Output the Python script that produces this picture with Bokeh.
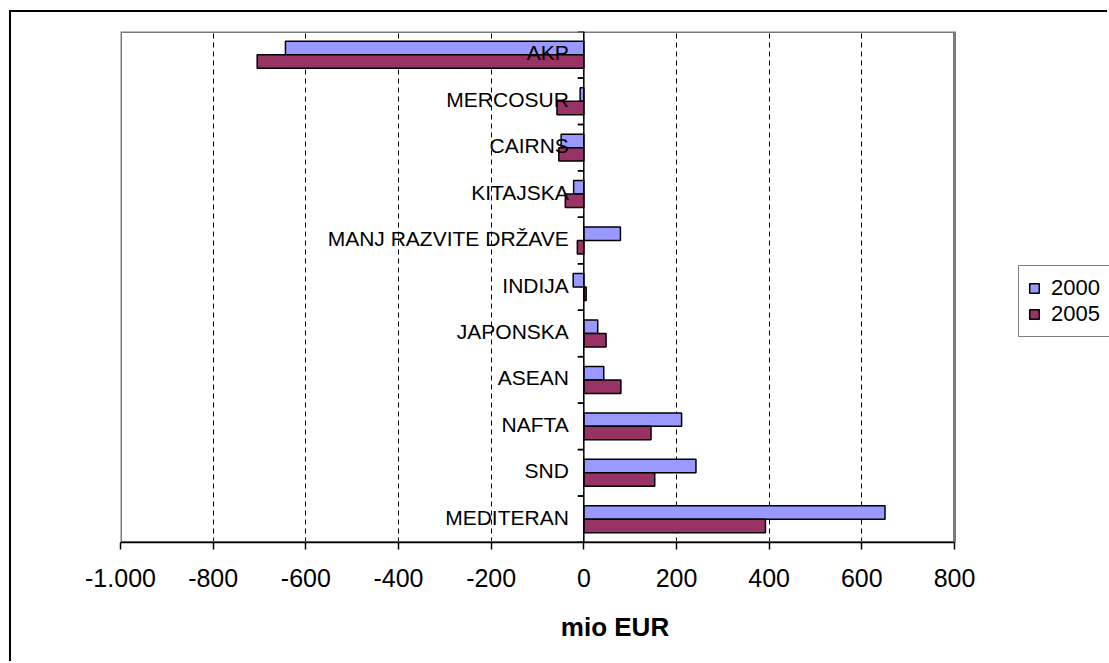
from bokeh.plotting import figure
from bokeh.models import (Range1d, FactorRange, FixedTicker, Span, Legend, LegendItem,
                          ColumnDataSource, BoxAnnotation)
from bokeh.transform import dodge
from bokeh.core.properties import value
from bokeh.embed import file_html
from bokeh.resources import INLINE

# ---- data ----
categories = ["AKP", "MERCOSUR", "CAIRNS", "KITAJSKA", "MANJ RAZVITE DRŽAVE", "INDIJA",
              "JAPONSKA", "ASEAN", "NAFTA", "SND", "MEDITERAN"]
values_2000 = [-644, -8, -49, -22, 79, -23, 30, 43, 211, 242, 650]
values_2005 = [-705, -58, -54, -40, -14, 5, 48, 80, 145, 153, 392]
series_names = ["2000", "2005"]
series_colors = ["#9999FF", "#993366"]
tick_values = [-1000, -800, -600, -400, -200, 0, 200, 400, 600, 800]
tick_labels = ["-1.000", "-800", "-600", "-400", "-200", "0", "200", "400", "600", "800"]
x_axis_title = "mio EUR"

FONT = "Liberation Sans"

# layout (pixels)
CANVAS_W, CANVAS_H = 1098, 651
PLOT_LEFT, PLOT_W = 109, 834          # plot area spans the axis bounds
x_min, x_max = tick_values[0], tick_values[-1]
# the frame continues to the canvas' right edge so the legend can sit beside the plot area
x_frame_end = x_min + (CANVAS_W - PLOT_LEFT) * (x_max - x_min) / PLOT_W

source = ColumnDataSource(dict(cat=categories, v2000=values_2000, v2005=values_2005))

p = figure(width=CANVAS_W, height=CANVAS_H, output_backend="svg", toolbar_location=None,
           title=None, y_axis_location=None,
           x_range=Range1d(x_min, x_frame_end),
           y_range=FactorRange(factors=categories[::-1]),
           min_border_left=PLOT_LEFT, min_border_right=0, min_border_top=19, min_border_bottom=121)
p.margin = (10, 0, 0, 9)
p.styles = {"border-left": "2px solid black", "border-top": "2px solid black",
            "border-right": "none", "border-bottom": "none"}
p.background_fill_color = "white"
p.border_fill_color = "white"
p.outline_line_color = None

# plot-area outline
p.add_layout(BoxAnnotation(left=x_min, right=x_max, fill_alpha=0, fill_color=None,
                           line_color="#7a7a7a", line_alpha=1, line_width=3, level="underlay"))

# x axis
ax = p.xaxis[0]
ax.bounds = (x_min, x_max)
ax.ticker = FixedTicker(ticks=tick_values)
ax.major_label_overrides = dict(zip(tick_values, tick_labels))
ax.major_label_text_font = FONT
ax.major_label_text_font_size = "25px"
ax.major_label_text_color = "black"
ax.major_tick_out = 7
ax.major_tick_in = 0
ax.minor_tick_line_color = None
ax.axis_line_color = "black"
ax.axis_line_width = 1.5
ax.major_tick_line_color = "black"
ax.major_tick_line_width = 1.5
ax.major_label_standoff = 19
ax.axis_label = x_axis_title
ax.axis_label_text_font = FONT
ax.axis_label_text_font_size = "26px"
ax.axis_label_text_font_style = "bold"
ax.axis_label_text_color = "black"
ax.axis_label_standoff = 22

# grid
p.xgrid.ticker = FixedTicker(ticks=tick_values[1:-1])
p.xgrid.grid_line_color = "black"
p.xgrid.grid_line_dash = "5 4"
p.xgrid.grid_line_width = 1
p.ygrid.grid_line_color = None

# bars
r1 = p.hbar(y=dodge("cat", 0.145, range=p.y_range), left=0, right="v2000", height=0.29,
            source=source, fill_color=series_colors[0], line_color="black", line_width=1.5)
r2 = p.hbar(y=dodge("cat", -0.145, range=p.y_range), left=0, right="v2005", height=0.29,
            source=source, fill_color=series_colors[1], line_color="black", line_width=1.5)

# category axis at zero
p.add_layout(Span(location=0, dimension="height", line_color="black", line_width=1.5))
for off in (-0.5, 0.5):
    p.segment(x0=-13, x1=0, y0=dodge("cat", off, range=p.y_range), y1=dodge("cat", off, range=p.y_range),
              source=source, line_color="black", line_width=1.5)
p.text(x=0, y="cat", text="cat", source=source, x_offset=-15, y_offset=-2,
       text_align="right", text_baseline="middle", text_font=value(FONT),
       text_font_size="21px", text_color="black")

# legend, to the right of the plot area
legend = Legend(items=[LegendItem(label=series_names[0], renderers=[r1]),
                       LegendItem(label=series_names[1], renderers=[r2])],
                location=(898, 205), orientation="vertical")
legend.border_line_color = "black"
legend.border_line_width = 1
legend.background_fill_color = "white"
legend.background_fill_alpha = 1
legend.label_text_font = FONT
legend.label_text_font_size = "22px"
legend.label_text_color = "black"
legend.glyph_width = 12
legend.glyph_height = 12
legend.label_standoff = 11
legend.padding = 9
legend.spacing = 0
legend.margin = 0
p.add_layout(legend, "center")

open("out.html", "w").write(file_html(p, INLINE))
